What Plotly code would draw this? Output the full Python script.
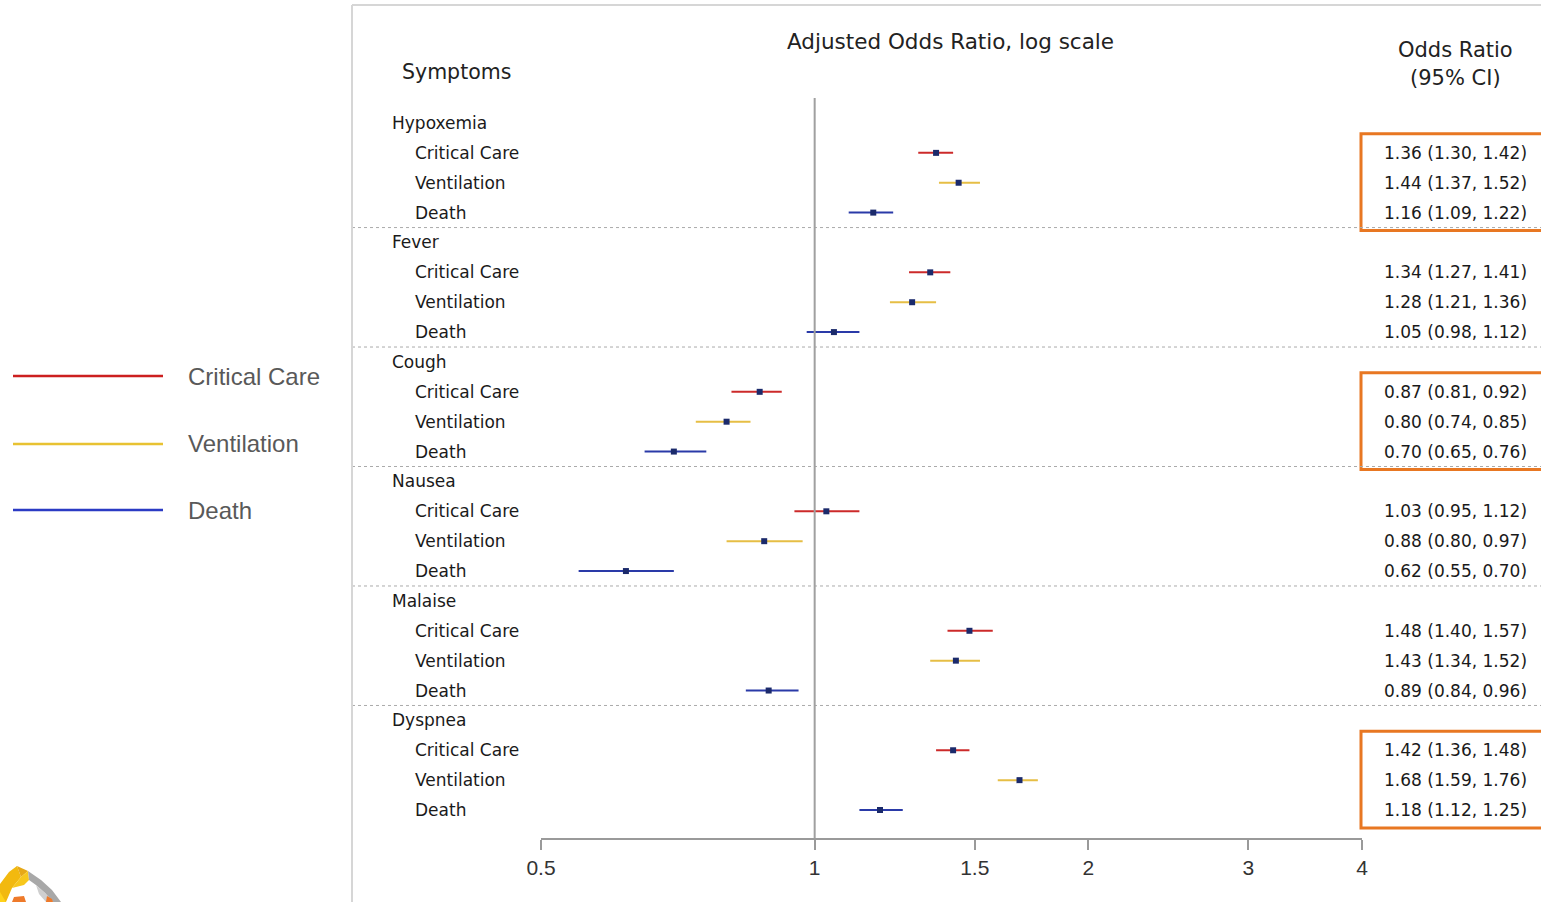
import math
import plotly.graph_objects as go

# ---- data -------------------------------------------------------------
symptoms = ["Hypoxemia", "Fever", "Cough", "Nausea", "Malaise", "Dyspnea"]
outcomes = ["Critical Care", "Ventilation", "Death"]

odds_ratio = [
    [1.36, 1.44, 1.16],
    [1.34, 1.28, 1.05],
    [0.87, 0.80, 0.70],
    [1.03, 0.88, 0.62],
    [1.48, 1.43, 0.89],
    [1.42, 1.68, 1.18],
]
ci_low = [
    [1.30, 1.37, 1.09],
    [1.27, 1.21, 0.98],
    [0.81, 0.74, 0.65],
    [0.95, 0.80, 0.55],
    [1.40, 1.34, 0.84],
    [1.36, 1.59, 1.12],
]
ci_high = [
    [1.42, 1.52, 1.22],
    [1.41, 1.36, 1.12],
    [0.92, 0.85, 0.76],
    [1.12, 0.97, 0.70],
    [1.57, 1.52, 0.96],
    [1.48, 1.76, 1.25],
]
highlighted = ["Hypoxemia", "Cough", "Dyspnea"]
tick_values = [0.5, 1, 1.5, 2, 3, 4]
tick_labels = ["0.5", "1", "1.5", "2", "3", "4"]

# ---- styling ----------------------------------------------------------
W, H = 1541, 902
line_colors = {"Critical Care": "#CC2A2A", "Ventilation": "#E6BE45", "Death": "#2A3AA8"}
legend_colors = {"Critical Care": "#CC1F1F", "Ventilation": "#E8C232", "Death": "#2B3BC4"}
marker_color = "#1B2A6B"
label_font = "DejaVu Sans"
ROW_STEP = 4  # header row + three outcome rows per symptom


def px(x):
    return x / W


def py(y):
    return 1 - y / H


fig = go.Figure()

# confidence-interval segments and point estimates, one trace per outcome
for j, outcome in enumerate(outcomes):
    xs, ys, mx, my = [], [], [], []
    for i in range(len(symptoms)):
        row = i * ROW_STEP + 1 + j
        xs += [ci_low[i][j], ci_high[i][j], None]
        ys += [row, row, None]
        mx.append(odds_ratio[i][j])
        my.append(row)
    fig.add_trace(go.Scatter(x=xs, y=ys, mode="lines",
                             line=dict(color=line_colors[outcome], width=2),
                             hoverinfo="skip", showlegend=False))
    fig.add_trace(go.Scatter(x=mx, y=my, mode="markers",
                             marker=dict(symbol="square", size=6, color=marker_color),
                             name=outcome, showlegend=False))

annotations = []
shapes = []

# row labels and formatted odds ratios
for i, s in enumerate(symptoms):
    base = i * ROW_STEP
    annotations.append(dict(x=px(390), y=base, xref="paper", yref="y", text=s,
                            showarrow=False, xanchor="left", yanchor="middle",
                            font=dict(family=label_font, size=17, color="#1a1a1a")))
    for j, outcome in enumerate(outcomes):
        row = base + 1 + j
        annotations.append(dict(x=px(413), y=row, xref="paper", yref="y", text=outcome,
                                showarrow=False, xanchor="left", yanchor="middle",
                                font=dict(family=label_font, size=17, color="#1a1a1a")))
        txt = f"{odds_ratio[i][j]:.2f} ({ci_low[i][j]:.2f}, {ci_high[i][j]:.2f})"
        annotations.append(dict(x=px(1455), y=row, xref="paper", yref="y", text=txt,
                                showarrow=False, xanchor="center", yanchor="middle",
                                font=dict(family=label_font, size=17, color="#1a1a1a")))
    if i > 0:
        shapes.append(dict(type="line", xref="paper", yref="y",
                           x0=px(352), x1=1.0, y0=base - 0.5, y1=base - 0.5,
                           line=dict(color="#aaaaaa", width=1, dash="3px,3px")))
    if s in highlighted:
        shapes.append(dict(type="rect", xref="paper", yref="y",
                           x0=px(1361), x1=1.02, y0=base + 0.36, y1=base + 3.6,
                           line=dict(color="#E87722", width=3)))

# reference line at OR = 1
shapes.append(dict(type="line", xref="x", yref="paper", x0=1, x1=1,
                   y0=py(838), y1=py(98), line=dict(color="#a0a0a0", width=2)))

# outer frame (top and left edges)
shapes.append(dict(type="line", xref="paper", yref="paper", x0=px(352), x1=px(352),
                   y0=0, y1=py(5), line=dict(color="#d6d6d6", width=2)))
shapes.append(dict(type="line", xref="paper", yref="paper", x0=px(352), x1=1,
                   y0=py(5), y1=py(5), line=dict(color="#d6d6d6", width=2)))

# headers
annotations += [
    dict(x=px(950), y=py(42), xref="paper", yref="paper", text="Adjusted Odds Ratio, log scale",
         showarrow=False, xanchor="center", yanchor="middle",
         font=dict(family=label_font, size=21.5, color="#222")),
    dict(x=px(400), y=py(72), xref="paper", yref="paper", text="Symptoms",
         showarrow=False, xanchor="left", yanchor="middle",
         font=dict(family=label_font, size=20.5, color="#222")),
    dict(x=px(1455), y=py(50), xref="paper", yref="paper", text="Odds Ratio",
         showarrow=False, xanchor="center", yanchor="middle",
         font=dict(family=label_font, size=21, color="#222")),
    dict(x=px(1455), y=py(78), xref="paper", yref="paper", text="(95% CI)",
         showarrow=False, xanchor="center", yanchor="middle",
         font=dict(family=label_font, size=21, color="#222")),
]

# legend drawn on the left side
legend_y = {"Critical Care": 376, "Ventilation": 444, "Death": 510}
for outcome in outcomes:
    y = legend_y[outcome]
    shapes.append(dict(type="line", xref="paper", yref="paper", x0=px(13), x1=px(163),
                       y0=py(y), y1=py(y), line=dict(color=legend_colors[outcome], width=2.5)))
    annotations.append(dict(x=px(186), y=py(y), xref="paper", yref="paper", text=outcome,
                            showarrow=False, xanchor="left", yanchor="middle",
                            font=dict(family="Liberation Sans", size=24, color="#595959")))


# small corner emblem
def poly(points, color):
    d = "M " + " L ".join(f"{px(x):.5f},{py(y):.5f}" for x, y in points) + " Z"
    return dict(type="path", xref="paper", yref="paper", path=d,
                fillcolor=color, line=dict(width=0))


shapes += [
    poly([(0, 884), (9, 872), (17, 866), (21, 877), (12, 888), (6, 902), (0, 902)], "#F2B90F"),
    poly([(17, 866), (28, 871), (21, 877)], "#E6A817"),
    poly([(0, 892), (6, 902), (0, 902)], "#FFD21A"),
    poly([(21, 877), (28, 871), (29, 880), (24, 885), (12, 888)], "#F7C71C"),
    poly([(28, 871), (41, 880), (52, 890), (61, 902), (53, 902), (45, 893), (36, 885), (29, 880)], "#A8A8A8"),
    poly([(36, 885), (45, 893), (53, 902), (46, 902), (39, 894)], "#CFCFCF"),
    poly([(14, 897), (24, 896), (26, 902), (12, 902)], "#EE7A2A"),
    poly([(47, 896), (52, 899), (53, 902), (46, 902)], "#EE7A2A"),
]

fig.update_layout(
    width=W, height=H,
    margin=dict(l=0, r=0, t=0, b=0, autoexpand=False),
    paper_bgcolor="white", plot_bgcolor="white",
    showlegend=False,
    annotations=annotations,
    shapes=shapes,
    xaxis=dict(type="log", domain=[px(541), px(1362)],
               range=[math.log10(0.5), math.log10(4)],
               tickvals=tick_values, ticktext=tick_labels,
               showgrid=False, zeroline=False,
               showline=True, linecolor="#9a9a9a", linewidth=1.5,
               ticks="outside", ticklen=10, tickcolor="#9a9a9a", tickwidth=1.5,
               tickfont=dict(family="Liberation Sans", size=21, color="#333")),
    yaxis=dict(domain=[py(838), py(98)], range=[23.937, -0.837],
               visible=False, showgrid=False, zeroline=False),
)

fig.write_html("out.html")
